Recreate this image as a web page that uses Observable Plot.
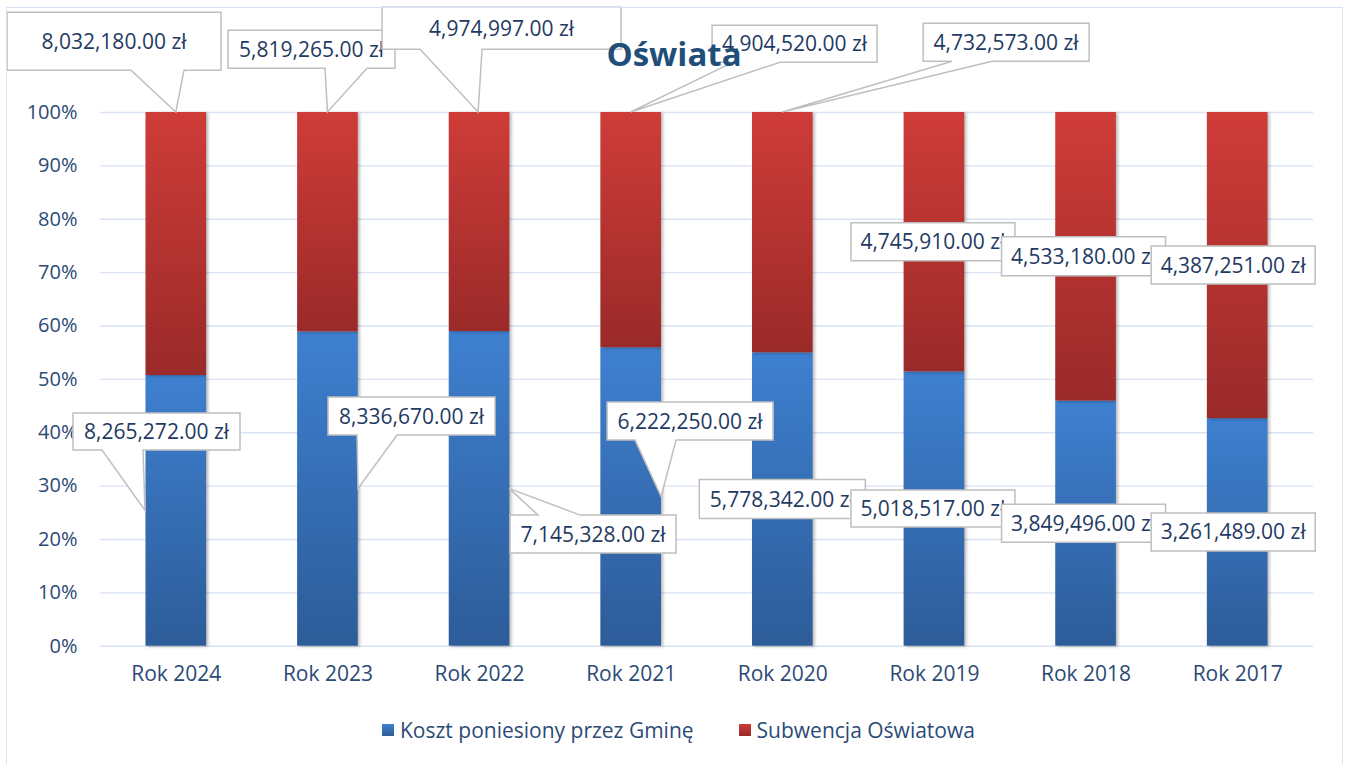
<!DOCTYPE html>
<html>
<head>
<meta charset="utf-8">
<script src="https://cdn.jsdelivr.net/npm/d3@7"></script>
<script src="https://cdn.jsdelivr.net/npm/@observablehq/plot@0.6"></script>
<style>
  html, body { margin: 0; padding: 0; background: #fff; }
  #wrap { position: relative; width: 1349px; height: 764px; overflow: hidden; font-family: "Open Sans", sans-serif; }
  #frame { position: absolute; left: 6px; top: 7px; width: 1335px; height: 800px; border: 1.5px solid #D6E1F2; pointer-events: none; }
  #chart svg { display: block; }
  g[aria-label="bar"] rect { filter: drop-shadow(2px 1px 1.5px rgba(0,0,0,0.28)); }
  #legend { position: absolute; left: 382px; top: 716px; display: flex; align-items: center; font-size: 21px; color: #2C4A76; white-space: nowrap; }
  #legend .sw { width: 12px; height: 12px; display: inline-block; margin-right: 6px; }
  #legend .item { display: flex; align-items: center; margin-right: 45px; }
</style>
</head>
<body>
<div id="wrap">
  <div id="chart"></div>
  <div id="legend"></div>
  <div id="frame"></div>
</div>
<script>
// ---- data ----
const chartTitle = "Oświata";
const categories = ["Rok 2024", "Rok 2023", "Rok 2022", "Rok 2021", "Rok 2020", "Rok 2019", "Rok 2018", "Rok 2017"];
const seriesNames = ["Koszt poniesiony przez Gminę", "Subwencja Oświatowa"];
const koszt = [8265272, 8336670, 7145328, 6222250, 5778342, 5018517, 3849496, 3261489];
const subwencja = [8032180, 5819265, 4974997, 4904520, 4732573, 4745910, 4533180, 4387251];
const yTicks = [0, 0.1, 0.2, 0.3, 0.4, 0.5, 0.6, 0.7, 0.8, 0.9, 1];

// ---- callout layout (pixel offsets of label boxes relative to their data anchor) ----
const calloutLayout = [
  {cat: 0, s: 0, at: "mid", dx: -19.3, dy: -78.9, w: 167, h: 37, tail: {edge: "bottom", a: 29, b: 70, tx: -30.8}},
  {cat: 0, s: 1, at: "top", dx: -61.8, dy: -70.8, w: 214, h: 58, tail: {edge: "bottom", a: 124, b: 177, tx: 0}},
  {cat: 1, s: 0, at: "mid", dx: 84.1, dy: -72.5, w: 167, h: 38, tail: {edge: "bottom", a: 29, b: 69, tx: 30.6}},
  {cat: 1, s: 1, at: "top", dx: -15.9, dy: -62.8, w: 167, h: 38, tail: {edge: "bottom", a: 97, b: 139, tx: 0}},
  {cat: 2, s: 0, at: "mid", dx: 114, dy: 45.7, w: 166, h: 38, tail: {edge: "top", a: 28, b: 70, tx: 30}},
  {cat: 2, s: 1, at: "top", dx: 22.5, dy: -83.8, w: 239, h: 42, tail: {edge: "bottom", a: 38, b: 100, tx: -1}},
  {cat: 3, s: 0, at: "mid", dx: 59.4, dy: -75.4, w: 166, h: 38, tail: {edge: "bottom", a: 28, b: 69, tx: 30.4}},
  {cat: 3, s: 1, at: "top", dx: 163.9, dy: -68.3, w: 165, h: 37, tail: {edge: "bottom", a: 21, b: 68, tx: 0}},
  {cat: 4, s: 0, at: "mid", dx: 0, dy: 0, w: 166, h: 39, tail: null},
  {cat: 4, s: 1, at: "top", dx: 223.8, dy: -69.8, w: 166, h: 38, tail: {edge: "bottom", a: 29, b: 69, tx: 0}},
  {cat: 5, s: 0, at: "mid", dx: -1, dy: 0, w: 164, h: 37, tail: null},
  {cat: 5, s: 1, at: "mid", dx: -1, dy: 0, w: 164, h: 38, tail: null},
  {cat: 6, s: 0, at: "mid", dx: -2, dy: 0, w: 164, h: 38, tail: null},
  {cat: 6, s: 1, at: "mid", dx: -2, dy: 0, w: 164, h: 39, tail: null},
  {cat: 7, s: 0, at: "mid", dx: -4, dy: 0, w: 164, h: 38, tail: null},
  {cat: 7, s: 1, at: "mid", dx: -4, dy: 0, w: 164, h: 38, tail: null}
];

const tidy = categories.flatMap((c, i) => [
  {cat: c, series: seriesNames[0], value: koszt[i]},
  {cat: c, series: seriesNames[1], value: subwencja[i]}
]);

const axisColor = "#2C4A76";
const gridColor = "#D9E3F3";

const chart = Plot.plot({
  width: 1349,
  height: 700,
  marginLeft: 100,
  marginRight: 36,
  marginTop: 112,
  marginBottom: 54.3,
  style: {fontFamily: "Open Sans", background: "transparent", overflow: "visible"},
  x: {domain: categories, paddingInner: 0.6, paddingOuter: 0.3, round: false, label: null},
  y: {domain: [0, 1], label: null},
  color: {domain: seriesNames, range: ["url(#gradBlue)", "url(#gradRed)"]},
  marks: [
    Plot.ruleY(yTicks, {stroke: gridColor, strokeWidth: 1.4}),
    Plot.barY(tidy, Plot.stackY({x: "cat", y: "value", fill: "series", offset: "normalize", order: null})),
    Plot.axisY({ticks: yTicks, tickFormat: d3.format(".0%"), tickSize: 0, tickPadding: 23, fontSize: 20, color: axisColor, label: null}),
    Plot.axisX({tickSize: 0, tickPadding: 20, fontSize: 21, color: axisColor, label: null})
  ]
});

document.getElementById("chart").appendChild(chart);

// gradients
const svg = d3.select(chart);
const defs = svg.insert("defs", ":first-child");
function grad(id, c1, c2) {
  const g = defs.append("linearGradient").attr("id", id).attr("x1", 0).attr("y1", 0).attr("x2", 0).attr("y2", 1);
  g.append("stop").attr("offset", "0%").attr("stop-color", c1);
  g.append("stop").attr("offset", "100%").attr("stop-color", c2);
}
grad("gradBlue", "#3E80D0", "#2D5C99");
grad("gradRed", "#CF3C38", "#9A2A29");

// scales from the plot
const xs = chart.scale("x");
const ys = chart.scale("y");
const xFn = xs.apply ? xs.apply : d3.scaleBand(xs.domain, xs.range).paddingInner(0.6).paddingOuter(0.3);
const yFn = ys.apply ? ys.apply : d3.scaleLinear(ys.domain, ys.range);
const bw = xs.bandwidth;

const fmt = v => d3.format(",.2f")(v) + " zł";

const gCall = svg.append("g").attr("class", "callouts");
for (const L of calloutLayout) {
  const k = koszt[L.cat], s = subwencja[L.cat], tot = k + s;
  let frac;
  if (L.at === "top") frac = 1;
  else if (L.s === 0) frac = k / tot / 2;
  else frac = k / tot + s / tot / 2;
  const ax = xFn(categories[L.cat]) + bw / 2;
  const ay = yFn(frac);
  const cx = ax + L.dx, cy = ay + L.dy;
  const l = cx - L.w / 2, r = cx + L.w / 2, t = cy - L.h / 2, b = cy + L.h / 2;
  let pts;
  if (!L.tail) {
    pts = [[l, t], [r, t], [r, b], [l, b]];
  } else if (L.tail.edge === "bottom") {
    pts = [[l, t], [r, t], [r, b], [l + L.tail.b, b], [ax + L.tail.tx, ay], [l + L.tail.a, b], [l, b]];
  } else {
    pts = [[l, t], [l + L.tail.a, t], [ax + L.tail.tx, ay], [l + L.tail.b, t], [r, t], [r, b], [l, b]];
  }
  gCall.append("path")
    .attr("d", "M" + pts.map(p => p.join(",")).join("L") + "Z")
    .attr("fill", "#fff")
    .attr("stroke", "#BFBFBF")
    .attr("stroke-width", 1.5);
  gCall.append("text")
    .attr("x", cx)
    .attr("y", cy)
    .attr("dy", "0.36em")
    .attr("text-anchor", "middle")
    .attr("font-size", 21)
    .attr("fill", "#1F3A63")
    .text(fmt(L.s === 0 ? k : s));
}

// title
svg.append("text")
  .attr("x", 674)
  .attr("y", 66)
  .attr("text-anchor", "middle")
  .attr("font-size", 33)
  .attr("font-weight", "bold")
  .attr("fill", "#1F4E79")
  .text(chartTitle);

// legend
const legend = d3.select("#legend");
const swatches = ["linear-gradient(#3E80D0, #2D5C99)", "linear-gradient(#CF3C38, #9A2A29)"];
seriesNames.forEach((n, i) => {
  const it = legend.append("div").attr("class", "item");
  it.append("span").attr("class", "sw").style("background", swatches[i]);
  it.append("span").text(n);
});
</script>
</body>
</html>
